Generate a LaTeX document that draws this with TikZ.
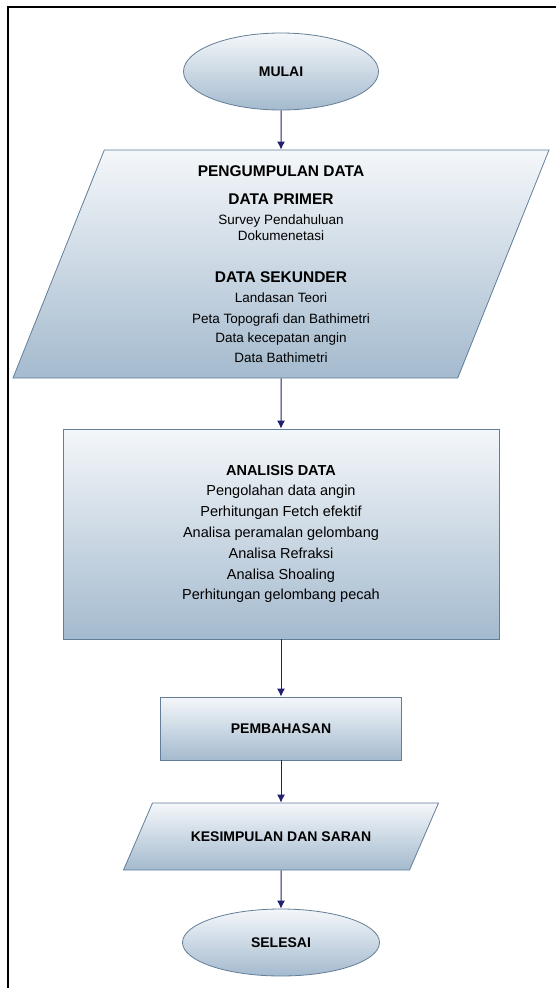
\documentclass[tikz,border=0pt]{standalone}
\usepackage{fontspec}
\setmainfont{Liberation Sans}
\usetikzlibrary{shapes.geometric, arrows.meta}

\definecolor{edgeblue}{RGB}{98,126,152}
\definecolor{topfill}{RGB}{244,247,250}
\definecolor{botfill}{RGB}{164,186,206}
\definecolor{arrownavy}{RGB}{36,32,112}

\newcommand{\judul}[1]{{\fontsize{15.5}{17}\selectfont\bfseries #1}}

\begin{document}
\begin{tikzpicture}[
    x = 1pt,
    y = -1pt,
    block/.style = {
        draw = edgeblue,
        line width = 0.8pt,
        top color = topfill,
        bottom color = botfill,
        align = center,
        inner sep = 0pt
    },
    terminal/.style = {block, ellipse, font = \fontsize{14}{17}\selectfont\bfseries},
    process/.style = {block, rectangle},
    iobox/.style = {block, trapezium, trapezium stretches body},
    arrow/.style = {-{Latex[length = 8pt, width = 8pt]}, color = arrownavy, line width = 1pt}
]
\useasboundingbox (0,0) rectangle (556,988);

% Frame
\draw[line width = 2pt] (7.5,988) -- (7.5,7) -- (556,7);

% Flow steps
\node[terminal, minimum width = 195pt, minimum height = 77pt] (mulai) at (281,71.5) {MULAI};
\node[iobox, trapezium left angle = 68, trapezium right angle = 112,
      inner ysep = 14.5pt, minimum width = 536pt, minimum height = 228pt,
      font = \fontsize{13.5}{19.5}\selectfont] (kumpul) at (281,264) {
    \judul{PENGUMPULAN DATA}\\[9pt]
    \judul{DATA PRIMER}\\
    Survey Pendahuluan\\[-3.5pt]
    Dokumenetasi\\[23pt]
    \judul{DATA SEKUNDER}\\
    Landasan Teori\\[1.5pt]
    Peta Topografi dan Bathimetri\\
    Data kecepatan angin\\
    Data Bathimetri
};
\node[process, minimum width = 436pt, minimum height = 210pt,
      font = \fontsize{14.5}{20.8}\selectfont] (analisis) at (281,534) {
    \textbf{ANALISIS DATA}\\
    Pengolahan data angin\\
    Perhitungan Fetch efektif\\
    Analisa peramalan gelombang\\
    Analisa Refraksi\\
    Analisa Shoaling\\
    Perhitungan gelombang pecah
};
\node[process, minimum width = 241pt, minimum height = 63pt,
      font = \fontsize{14}{17}\selectfont\bfseries] (bahas) at (281,728.5) {PEMBAHASAN};
\node[iobox, trapezium left angle = 66.6, trapezium right angle = 113.4,
      text height = 10pt, text depth = 0pt, inner ysep = 28.5pt, minimum width = 315pt,
      font = \fontsize{14}{17}\selectfont\bfseries] (simpul) at (281,836.5) {KESIMPULAN DAN SARAN};
\node[terminal, minimum width = 197pt, minimum height = 67pt] (selesai) at (281,942.5) {SELESAI};

% Connectors
\draw[arrow] (mulai) -- (kumpul);
\draw[arrow] (kumpul) -- (analisis);
\draw[arrow] (analisis) -- (bahas);
\draw[arrow] (bahas) -- (simpul);
\draw[arrow] (simpul) -- (selesai);

\end{tikzpicture}
\end{document}
